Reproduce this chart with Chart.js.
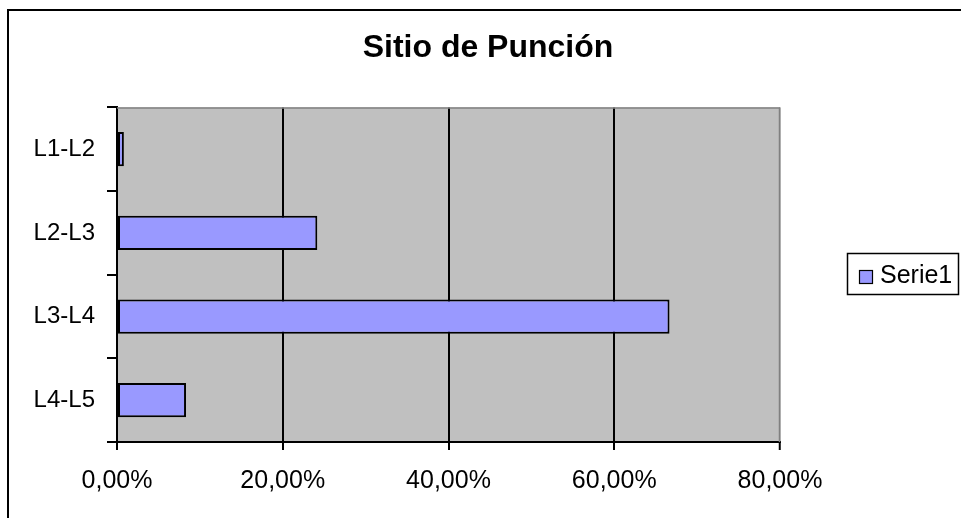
<!DOCTYPE html>
<html>
<head>
<meta charset="utf-8">
<script src="https://cdn.jsdelivr.net/npm/chart.js@4/dist/chart.umd.min.js"></script>
<style>
  html, body { margin: 0; padding: 0; background: #ffffff; }
  canvas { display: block; }
</style>
</head>
<body>
<canvas id="c" width="961" height="518"></canvas>
<script>
const chartTitle = 'Sitio de Punción';
const categories = ['L1-L2', 'L2-L3', 'L3-L4', 'L4-L5'];
const seriesName = 'Serie1';
const serie1 = [0.83, 24.17, 66.67, 8.33];
const tickLabels = ['0,00%', '20,00%', '40,00%', '60,00%', '80,00%'];

const FONT = '"Liberation Sans", Arial, Helvetica, sans-serif';
Chart.defaults.font.family = FONT;
Chart.defaults.color = '#000000';

const decorPlugin = {
  id: 'decor',
  beforeDraw(chart) {
    const { ctx, chartArea: a } = chart;
    ctx.save();
    ctx.fillStyle = '#ffffff';
    ctx.fillRect(0, 0, chart.width, chart.height);
    ctx.fillStyle = '#C0C0C0';
    ctx.fillRect(a.left, a.top, a.right - a.left, a.bottom - a.top);
    // outer chart border
    ctx.strokeStyle = '#000000';
    ctx.lineWidth = 2;
    ctx.strokeRect(8, 10, 962, 530);
    ctx.restore();
  },
  beforeDatasetsDraw(chart) {
    const { ctx, chartArea: a } = chart;
    ctx.save();
    ctx.strokeStyle = '#808080';
    ctx.lineWidth = 1.5;
    ctx.beginPath();
    ctx.moveTo(a.left, a.top + 0.5);
    ctx.lineTo(a.right - 0.5, a.top + 0.5);
    ctx.lineTo(a.right - 0.5, a.bottom);
    ctx.stroke();
    ctx.restore();
  },
  afterDraw(chart) {
    const { ctx } = chart;
    const ds = chart.data.datasets[0];
    ctx.save();
    ctx.strokeStyle = '#000000';
    ctx.lineWidth = 1.5;
    ctx.strokeRect(847.5, 253.5, 111, 41);
    ctx.fillStyle = ds.backgroundColor;
    ctx.fillRect(859.5, 270.5, 13, 13);
    ctx.lineWidth = 1.2;
    ctx.strokeRect(859.5, 270.5, 13, 13);
    ctx.fillStyle = '#000000';
    ctx.font = '25px ' + FONT;
    ctx.textBaseline = 'alphabetic';
    ctx.textAlign = 'left';
    ctx.fillText(ds.label, 880, 283);
    ctx.restore();
  }
};

new Chart(document.getElementById('c'), {
  type: 'bar',
  data: {
    labels: categories,
    datasets: [{
      label: seriesName,
      data: serie1,
      backgroundColor: '#9999FF',
      borderColor: '#000000',
      borderWidth: 2,
      borderSkipped: false,
      categoryPercentage: 1.0,
      barPercentage: 0.41
    }]
  },
  options: {
    indexAxis: 'y',
    responsive: false,
    animation: false,
    layout: { padding: { left: 15, right: 0, top: 0, bottom: 0 } },
    plugins: {
      legend: { display: false },
      tooltip: { enabled: false },
      title: {
        display: true,
        text: chartTitle,
        color: '#000000',
        font: { size: 32, weight: 'bold', family: FONT },
        padding: { top: 29, bottom: 40 }
      }
    },
    scales: {
      x: {
        type: 'linear',
        position: 'bottom',
        min: 0,
        max: 80,
        ticks: {
          stepSize: 20,
          padding: 16,
          color: '#000000',
          font: { size: 25, family: FONT },
          maxRotation: 0,
          callback: (v, i) => tickLabels[i]
        },
        grid: {
          drawOnChartArea: true,
          drawTicks: true,
          tickLength: 8,
          tickColor: '#000000',
          tickWidth: 2,
          color: ctx => (ctx.tick && ctx.tick.value === 80) ? '#808080' : '#000000',
          lineWidth: ctx => (ctx.tick && ctx.tick.value === 80) ? 1.5 : 2
        },
        border: { display: true, color: '#000000', width: 2 },
        afterFit: s => { s.height = 76; }
      },
      y: {
        type: 'category',
        position: 'left',
        offset: true,
        ticks: {
          padding: 12,
          color: '#000000',
          font: { size: 24, family: FONT }
        },
        grid: {
          offset: true,
          drawOnChartArea: false,
          drawTicks: true,
          tickLength: 10,
          color: '#000000',
          lineWidth: 2
        },
        border: { display: true, color: '#000000', width: 2 },
        afterFit: s => { s.width = 102; }
      },
      yRight: {
        type: 'category',
        position: 'right',
        display: true,
        ticks: { display: false },
        grid: { display: false },
        border: { display: false },
        afterFit: s => { s.width = 181; }
      }
    }
  },
  plugins: [decorPlugin]
});
</script>
</body>
</html>
